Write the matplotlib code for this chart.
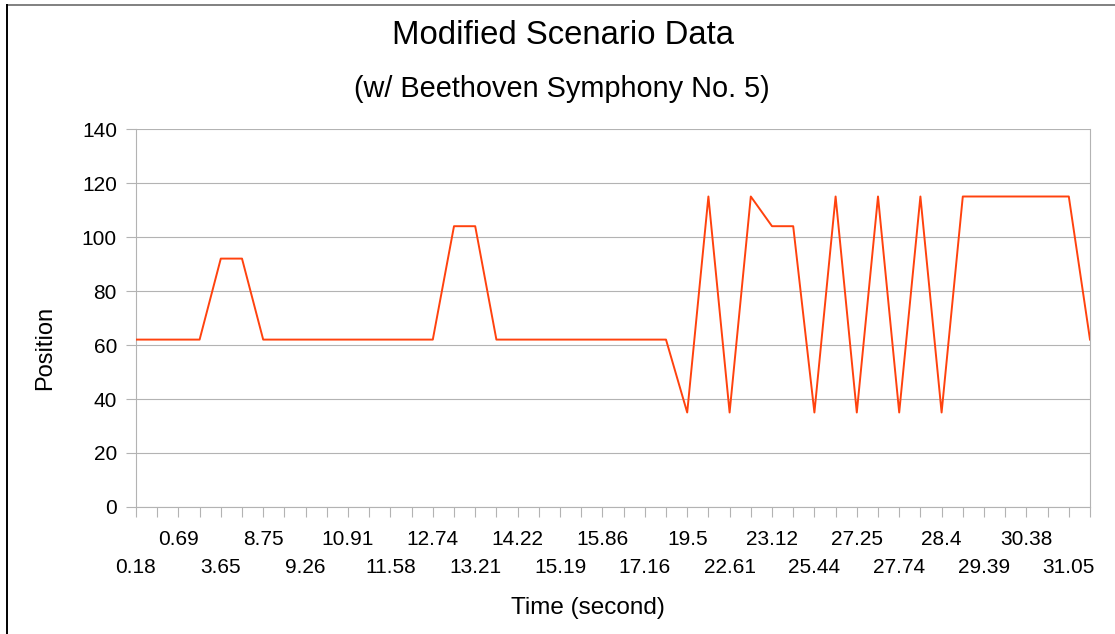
import matplotlib.pyplot as plt
from matplotlib.lines import Line2D

# ===================== #
# DATOS
# ===================== #
# etiquetas visibles del eje X (una de cada dos categorías)
time_labels = ["0.18", "0.69", "3.65", "8.75", "9.26", "10.91", "11.58", "12.74",
               "13.21", "14.22", "15.19", "15.86", "17.16", "19.5", "22.61", "23.12",
               "25.44", "27.25", "27.74", "28.4", "29.39", "30.38", "31.05"]

position = [62, 62, 62, 62, 92, 92, 62, 62, 62, 62, 62, 62, 62, 62, 62,
            104, 104, 62, 62, 62, 62, 62, 62, 62, 62, 62,
            35, 115, 35, 115, 104, 104, 35, 115, 35, 115, 35, 115, 35,
            115, 115, 115, 115, 115, 115, 62]

y_ticks = [0, 20, 40, 60, 80, 100, 120, 140]

# ===================== #
# FIGURA
# ===================== #
plt.rcParams['font.family'] = ['Liberation Sans', 'DejaVu Sans']
W, H = 1115, 634
fig = plt.figure(figsize=(W / 100, H / 100), dpi=100)
ax = fig.add_axes([136 / W, 1 - 507 / H, (1090 - 136) / W, (507 - 129) / H])

gris = "#b3b3b3"
x = list(range(len(position)))
ax.plot(x, position, color="#ff420e", linewidth=1.4, zorder=3)

ax.set_xlim(0, len(position) - 1)
ax.set_ylim(0, 140)
ax.set_yticks(y_ticks)
ax.set_yticklabels([str(v) for v in y_ticks], fontsize=15)
ax.yaxis.grid(True, color=gris, linewidth=0.8)
ax.set_axisbelow(True)

ax.set_xticks(x)
ax.set_xticklabels([])
ax.tick_params(axis='both', color=gris, length=7.2, width=0.8, direction='out')
ax.tick_params(axis='y', pad=6.5)

for s in ['left', 'right', 'bottom']:
    ax.spines[s].set_color(gris)
    ax.spines[s].set_linewidth(0.8)
ax.spines['top'].set_visible(False)

# etiquetas del eje X en dos filas alternadas
for k, lab in enumerate(time_labels):
    idx = 2 * k
    dy = -43.6 if k % 2 == 0 else -23.4
    ax.annotate(lab, xy=(idx, 0), xycoords=('data', 'axes fraction'),
                xytext=(0, dy), textcoords='offset points',
                ha='center', va='center', fontsize=15, annotation_clip=False)

fig.text(45 / W, 1 - 348 / H, "Position", rotation=90, ha='center', va='center', fontsize=17)
fig.text(588 / W, 1 - 608 / H, "Time (second)", ha='center', va='center', fontsize=17.5)
fig.text(563 / W, 1 - 36 / H, "Modified Scenario Data", ha='center', va='center', fontsize=23.7)
fig.text(562 / W, 1 - 89 / H, "(w/ Beethoven Symphony No. 5)", ha='center', va='center', fontsize=20.8)

# borde de la captura
fig.add_artist(Line2D([7 / W, 1], [1 - 5.3 / H, 1 - 5.3 / H], transform=fig.transFigure,
                      color="#808080", linewidth=1.4))
fig.add_artist(Line2D([7.3 / W, 7.3 / W], [0, 1 - 5 / H], transform=fig.transFigure,
                      color="black", linewidth=1.4))

fig.savefig("out.png", dpi=100)
